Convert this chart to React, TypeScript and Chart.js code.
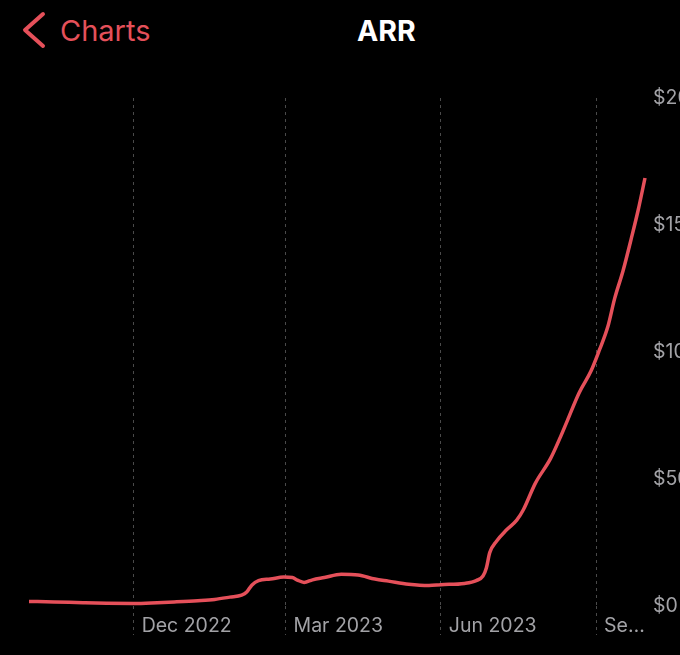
import React, { useEffect, useRef } from "react";
import { Chart, registerables } from "chart.js";

Chart.register(...registerables);

// ARR in thousands of dollars
const dates = [
  "2022-09-30", "2022-10-15", "2022-11-01", "2022-11-15", "2022-12-01",
  "2022-12-15", "2022-12-25", "2023-01-08", "2023-01-18", "2023-01-27",
  "2023-02-03", "2023-02-06", "2023-02-09", "2023-02-13", "2023-02-20",
  "2023-02-28", "2023-03-05", "2023-03-08", "2023-03-12", "2023-03-17",
  "2023-03-24", "2023-04-03", "2023-04-13", "2023-04-23", "2023-05-01",
  "2023-05-13", "2023-05-25", "2023-06-01", "2023-06-15", "2023-06-22",
  "2023-06-26", "2023-06-28", "2023-06-30", "2023-07-04", "2023-07-10",
  "2023-07-16", "2023-07-20", "2023-07-27", "2023-08-05", "2023-08-11",
  "2023-08-15", "2023-08-22", "2023-08-29", "2023-09-03", "2023-09-08",
  "2023-09-12", "2023-09-17", "2023-09-22", "2023-09-26", "2023-09-30",
];
const arrValues = [
  1.8, 1.6, 1.3, 1.1, 1.0,
  1.3, 1.6, 2.1, 2.6, 3.5,
  4.3, 5.5, 8.2, 10.0, 10.6,
  11.4, 11.2, 10.2, 9.3, 10.3,
  11.2, 12.5, 12.2, 10.6, 9.8,
  8.6, 8.1, 8.4, 8.9, 10.0,
  11.8, 15.0, 21.0, 25.5, 30.0,
  33.8, 38.0, 48.3, 58.0, 66.7,
  73.0, 84.0, 92.5, 100.8, 110.0,
  121.0, 132.0, 145.0, 156.0, 168.5,
];

const tickDates = ["2022-12-01", "2023-03-01", "2023-06-01", "2023-09-01"];
const tickLabels = ["Dec 2022", "Mar 2023", "Jun 2023", "Se…"];
const yTicks = [0, 50, 100, 150, 200];
const yTickLabels = ["$0", "$50K", "$100K", "$150K", "$200K"];

const RED = "#e5505a";
const GRAY_TEXT = "#a2a2a6";
const GRID = "#4a4a4a";
const FONT = 'Inter, "Noto Sans", sans-serif';

const DAY = 86400000;
const ORIGIN = Date.UTC(2022, 11, 1);
const toDay = (s: string) => {
  const [y, m, d] = s.split("-").map(Number);
  return (Date.UTC(y, m - 1, d) - ORIGIN) / DAY;
};

export default function App() {
  const ref = useRef<HTMLCanvasElement | null>(null);

  useEffect(() => {
    if (!ref.current) return;
    const chart = new Chart(ref.current, {
      type: "line",
      data: {
        datasets: [
          {
            data: dates.map((d, i) => ({ x: toDay(d), y: arrValues[i] })),
            borderColor: RED,
            borderWidth: 3.5,
            pointRadius: 0,
            cubicInterpolationMode: "monotone",
            clip: false as any,
            fill: false,
          },
        ],
      },
      options: {
        animation: false,
        responsive: false,
        maintainAspectRatio: false,
        layout: { padding: { left: 29, top: 98, right: 0, bottom: 0 } },
        plugins: { legend: { display: false }, tooltip: { enabled: false } },
        scales: {
          x: {
            type: "linear",
            min: toDay(dates[0]),
            max: toDay(dates[dates.length - 1]),
            afterBuildTicks: (s: any) => {
              s.ticks = tickDates.map((d) => ({ value: toDay(d) }));
            },
            afterFit: (s: any) => {
              s.height = 49;
            },
            grid: {
              color: GRID,
              lineWidth: 1,
              drawTicks: true,
              tickLength: 29,
              tickColor: GRID,
              tickBorderDash: [3, 4],
            },
            border: { display: false, dash: [3, 4] },
            ticks: {
              align: "start",
              labelOffset: 8,
              padding: -21,
              color: GRAY_TEXT,
              font: { family: FONT, size: 19.5 },
              autoSkip: false,
              maxRotation: 0,
              callback: (_v: any, i: number) => tickLabels[i],
            },
          },
          y: {
            position: "right",
            min: 0,
            max: 200,
            afterBuildTicks: (s: any) => {
              s.ticks = yTicks.map((v) => ({ value: v }));
            },
            afterFit: (s: any) => {
              s.width = 75;
            },
            grid: { display: false, drawTicks: false },
            border: { display: false },
            ticks: {
              padding: 8,
              color: GRAY_TEXT,
              font: { family: FONT, size: 19.5 },
              callback: (_v: any, i: number) => yTickLabels[i],
            },
          },
        },
      } as any,
    });
    return () => chart.destroy();
  }, []);

  return (
    <div
      style={{
        position: "fixed",
        left: 0,
        top: 0,
        width: 680,
        height: 655,
        background: "#000",
        overflow: "hidden",
      }}
    >
      <svg
        width={60}
        height={60}
        style={{ position: "absolute", left: 0, top: 0 }}
      >
        <polyline
          points="43,14 25,30 43,46"
          fill="none"
          stroke={RED}
          strokeWidth={4}
          strokeLinecap="round"
          strokeLinejoin="round"
        />
      </svg>
      <div
        style={{
          position: "absolute",
          left: 60,
          top: 17,
          fontFamily: FONT,
          fontSize: 29,
          lineHeight: "28px",
          color: RED,
          whiteSpace: "nowrap",
        }}
      >
        Charts
      </div>
      <div
        style={{
          position: "absolute",
          left: 357,
          top: 17,
          fontFamily: FONT,
          fontSize: 28.5,
          lineHeight: "28px",
          fontWeight: 700,
          color: "#fff",
          whiteSpace: "nowrap",
        }}
      >
        ARR
      </div>
      <canvas
        ref={ref}
        width={720}
        height={655}
        style={{ position: "absolute", left: 0, top: 0, width: 720, height: 655 }}
      />
    </div>
  );
}
